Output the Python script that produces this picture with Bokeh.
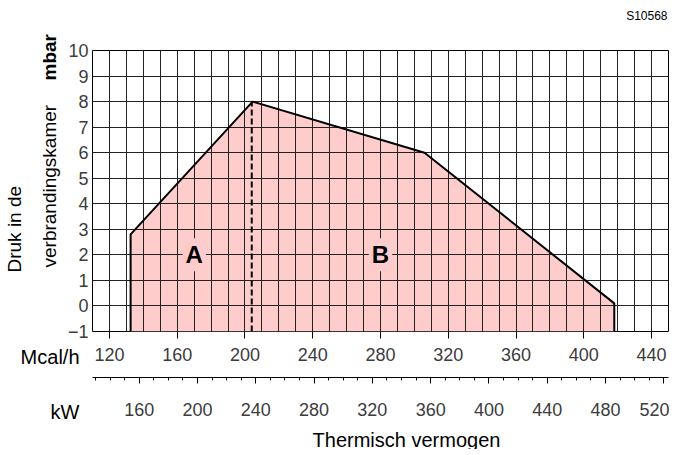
import math
from bokeh.plotting import figure
from bokeh.models import (Range1d, LinearAxis, FixedTicker, SingleIntervalTicker, Label, Grid)
from bokeh.embed import file_html
from bokeh.resources import INLINE

# ---- data ----
mcal_outline = [132.5, 132.5, 204.5, 306, 418, 418]
mbar_outline = [-1, 2.8, 8, 6, 0.1, -1]
divider_mcal = [204, 204]
divider_mbar = [-1, 8]
zone_names = ["A", "B"]
zone_mcal = [170, 280]
zone_mbar = [2, 2]
mcal_ticks = [120, 160, 200, 240, 280, 320, 360, 400, 440]
kw_ticks = [160, 200, 240, 280, 320, 360, 400, 440, 480, 520]
kw_minor = list(range(130, 530, 10))
mbar_ticks = list(range(-1, 11))
MCAL_PER_KW = 0.86

X0, X1 = 110, 450
Y0, Y1 = -1, 10
FONT = "Liberation Sans"
PINK = "#ffcccc"
TICK_COLOR = "#3c3c3c"

FL, FT, FW, FH = 92, 50, 576, 281

p = figure(frame_width=FW, frame_height=FH,
           x_range=Range1d(X0, X1), y_range=Range1d(Y0, Y1),
           output_backend="svg", toolbar_location=None,
           min_border_left=FL, min_border_top=FT, min_border_right=1,
           min_border_bottom=118, x_axis_type=None, y_axis_type=None)
p.outline_line_color = "black"
p.outline_line_width = 1
p.background_fill_color = "white"
p.border_fill_color = "white"

def dx(px):
    return X0 + (px - FL) * (X1 - X0) / FW

def dy(py):
    return Y0 + (FT + FH - py) * (Y1 - Y0) / FH

def lab(px, py, text, side, size="20px", align="right", baseline="middle", angle=0, style="normal"):
    p.add_layout(Label(x=dx(px), y=dy(py), text=text, text_font=FONT, text_font_size=size,
                       text_align=align, text_baseline=baseline, angle=angle,
                       text_font_style=style, text_color="black"), side)

# --- below stack: Mcal/h axis, id label (as spacer), kW axis, title ---
xa = LinearAxis(ticker=FixedTicker(ticks=mcal_ticks, minor_ticks=[]))
xa.axis_line_color = None
xa.major_tick_out = 7
xa.major_tick_in = 0
xa.major_tick_line_color = "black"
xa.minor_tick_line_color = None
xa.major_label_text_font = FONT
xa.major_label_text_font_size = "18px"
xa.major_label_text_color = TICK_COLOR
xa.major_label_standoff = 9
p.add_layout(xa, "below")

lab(667, 15, "S10568", "below", size="12px")

p.extra_x_ranges = {"kw": Range1d(X0 / MCAL_PER_KW, X1 / MCAL_PER_KW)}
ka = LinearAxis(x_range_name="kw", ticker=FixedTicker(ticks=kw_ticks, minor_ticks=kw_minor))
ka.axis_line_color = "black"
ka.axis_line_width = 1
ka.major_tick_out = 6
ka.major_tick_in = 0
ka.minor_tick_out = 3
ka.minor_tick_in = 0
ka.major_label_text_font = FONT
ka.major_label_text_font_size = "18px"
ka.major_label_text_color = TICK_COLOR
ka.major_label_standoff = 19
p.add_layout(ka, "below")

lab(406, 439, "Thermisch vermogen", "below", align="center")

# --- left stack: y axis and the rotated title lines ---
ya = LinearAxis(ticker=FixedTicker(ticks=mbar_ticks, minor_ticks=[]))
ya.axis_line_color = None
ya.major_tick_out = 0
ya.major_tick_in = 0
ya.minor_tick_line_color = None
ya.major_label_text_font = FONT
ya.major_label_text_font_size = "18px"
ya.major_label_text_color = TICK_COLOR
ya.major_label_standoff = 4
ya.major_label_overrides = {-1: "\u22121"}
p.add_layout(ya, "left")

lab(14, 272, "Druk in de", "left", size="19px", align="left", angle=math.pi / 2)
lab(49, 267, "verbrandingskamer", "left", size="19px", align="left", angle=math.pi / 2)
lab(49, 80, "mbar", "left", size="19px", align="left", angle=math.pi / 2, style="bold")

# --- above stack: unit names (positioned beside the bottom axes) ---
lab(79, 356, "Mcal/h", "above")
lab(79, 411, "kW", "above")

# grids
p.xgrid.visible = False
p.ygrid.visible = False
gx = Grid(dimension=0, ticker=SingleIntervalTicker(interval=10),
          grid_line_color="#222222", grid_line_width=1)
gy = Grid(dimension=1, ticker=SingleIntervalTicker(interval=1),
          grid_line_color="#222222", grid_line_width=1)
p.add_layout(gx, "center")
p.add_layout(gy, "center")

# area
p.patch(mcal_outline, mbar_outline, fill_color=PINK, line_color=None, level="image")
p.line(mcal_outline, mbar_outline, line_color="black", line_width=2)
p.line(divider_mcal, divider_mbar, line_color="black", line_width=2, line_dash="6 3")

for name, xv, yv in zip(zone_names, zone_mcal, zone_mbar):
    p.add_layout(Label(x=xv, y=yv, text=name, text_font=FONT, text_font_style="bold",
                       text_font_size="24px", text_align="center", text_baseline="middle",
                       text_color="black", background_fill_color=PINK, padding=3))

open("out.html", "w").write(file_html(p, INLINE))
